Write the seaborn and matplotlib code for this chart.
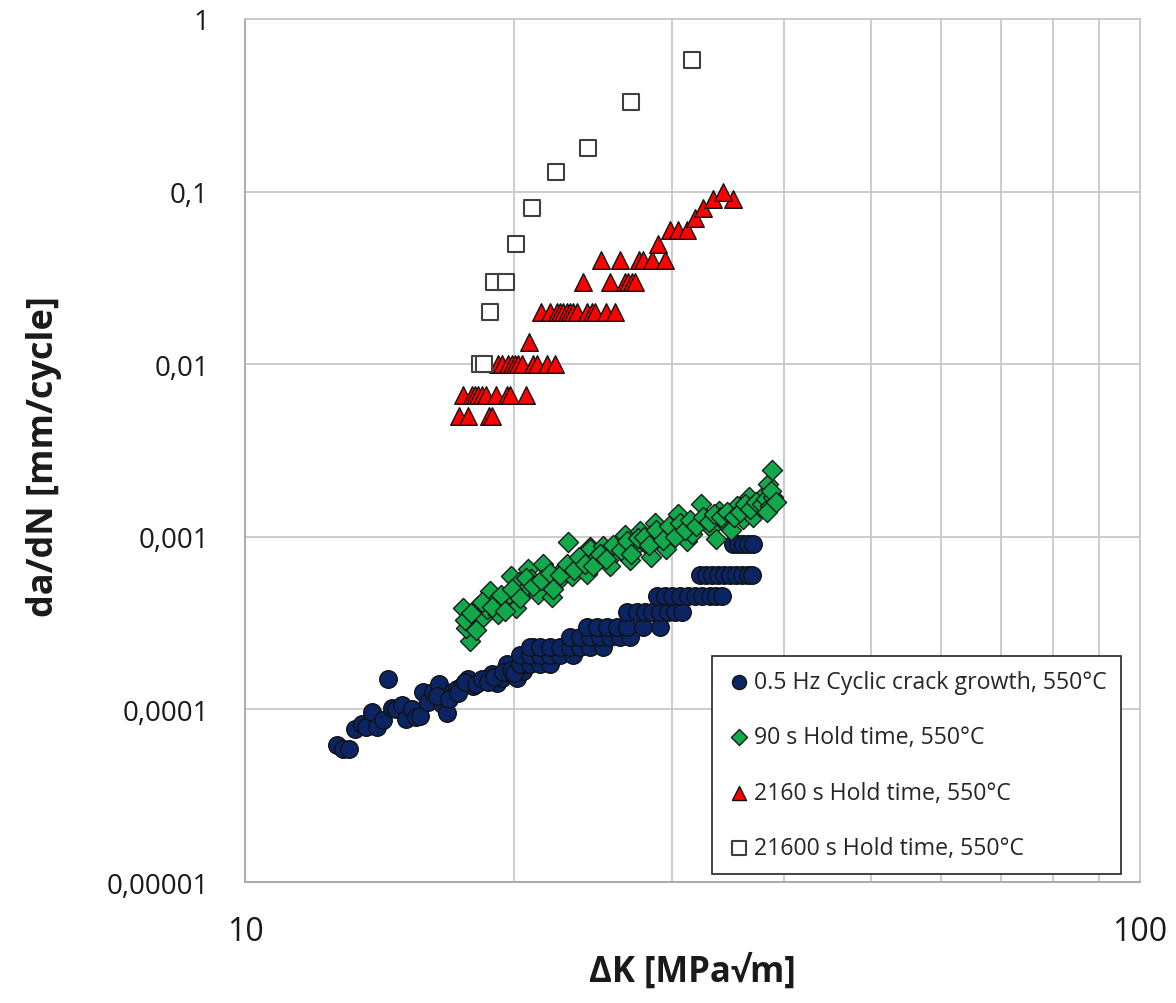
import matplotlib
matplotlib.use("Agg")
import matplotlib.pyplot as plt
import seaborn as sns
import pandas as pd
from matplotlib.ticker import FixedLocator, FixedFormatter, NullFormatter, NullLocator

# ---------------- data ----------------
cyc_dk = [12.66, 12.88, 13.08, 13.27, 13.5, 13.65, 13.85, 14.03, 14.25, 14.44, 14.59, 14.75,
          14.96, 15.13, 15.36, 15.53, 15.69, 15.8, 16.03, 16.24, 16.49, 16.59, 16.81, 17.02,
          17.24, 17.46, 17.77, 18.0, 18.27, 18.54, 18.87, 19.11, 19.36, 19.6, 19.86, 20.12,
          20.46, 20.82, 21.0,
          16.4, 16.9, 17.3, 17.6, 18.1, 18.4, 18.7, 19.0, 19.4, 19.8, 20.0, 20.6,
          20.29, 20.82, 21.36, 21.92,
          20.29, 20.82, 21.36, 21.92, 22.49, 23.27,
          20.82, 21.36, 21.92, 22.49, 23.07, 23.67, 24.29, 25.1,
          23.07, 23.67, 24.29, 24.92, 25.57, 26.24, 26.92,
          24.11, 24.74, 25.38, 26.04, 26.72, 27.84, 29.08,
          26.72, 27.42, 27.99, 28.5, 29.08, 29.69, 30.22, 30.77,
          28.86, 29.46, 29.99, 30.62, 31.26, 31.83, 32.41, 33.08, 33.6, 34.12,
          32.24, 32.74, 33.25, 33.77, 34.29, 34.83, 35.37, 35.92, 36.48, 36.86,
          35.1, 35.55, 36.01, 36.48, 36.95]
cyc_dadn = [6.2e-5, 5.9e-5, 5.9e-5, 7.7e-5, 8.2e-5, 7.9e-5, 9.7e-5, 7.9e-5, 8.7e-5, 1.51e-4, 1.02e-4, 1.0e-4,
            1.06e-4, 8.8e-5, 1.0e-4, 9.0e-5, 9.2e-5, 1.26e-4, 1.1e-4, 1.26e-4, 1.4e-4, 1.07e-4, 9.5e-5, 1.26e-4,
            1.32e-4, 1.37e-4, 1.51e-4, 1.37e-4, 1.45e-4, 1.51e-4, 1.6e-4, 1.43e-4, 1.53e-4, 1.83e-4, 1.6e-4, 1.53e-4,
            1.68e-4, 1.96e-4, 2.29e-4,
            1.2e-4, 1.15e-4, 1.25e-4, 1.45e-4, 1.4e-4, 1.5e-4, 1.45e-4, 1.55e-4, 1.65e-4, 1.7e-4, 1.62e-4, 1.83e-4,
            1.83e-4, 1.83e-4, 1.83e-4, 1.83e-4,
            2.07e-4, 2.07e-4, 2.07e-4, 2.07e-4, 2.07e-4, 2.07e-4,
            2.29e-4, 2.29e-4, 2.29e-4, 2.29e-4, 2.29e-4, 2.29e-4, 2.29e-4, 2.29e-4,
            2.62e-4, 2.62e-4, 2.62e-4, 2.62e-4, 2.62e-4, 2.62e-4, 2.62e-4,
            3.0e-4, 3.0e-4, 3.0e-4, 3.0e-4, 3.0e-4, 3.0e-4, 3.0e-4,
            3.68e-4, 3.68e-4, 3.68e-4, 3.68e-4, 3.68e-4, 3.68e-4, 3.68e-4, 3.68e-4,
            4.52e-4, 4.52e-4, 4.52e-4, 4.52e-4, 4.52e-4, 4.52e-4, 4.52e-4, 4.52e-4, 4.52e-4, 4.52e-4,
            6.0e-4, 6.0e-4, 6.0e-4, 6.0e-4, 6.0e-4, 6.0e-4, 6.0e-4, 6.0e-4, 6.0e-4, 6.0e-4,
            9.08e-4, 9.08e-4, 9.08e-4, 9.08e-4, 9.08e-4]

h90_dk = [17.51, 17.84, 17.67, 18.07, 18.23, 18.46, 18.65, 18.78, 19.01, 19.17, 19.41, 19.7,
          19.82, 20.06, 20.23, 20.5, 20.7, 20.88, 21.26, 21.55, 21.74, 22.03, 22.3, 22.68,
          22.98, 23.17, 23.47, 23.77, 24.08, 24.29, 24.6,
          24.08, 24.29, 24.71, 25.14, 25.57, 26.0, 26.59, 26.92, 27.28, 27.63, 28.07, 28.45,
          28.68, 29.08, 29.54, 30.08, 30.48, 30.86, 31.15, 31.62, 32.06, 32.32, 32.74, 33.16,
          33.6, 33.86, 34.41, 34.92, 35.42, 35.98, 36.54, 36.95, 37.6, 38.1, 38.43, 38.8,
          17.6, 17.9, 18.1, 18.4, 18.9, 19.3, 19.5, 19.9, 20.3, 20.6, 21.0, 21.4, 21.9, 22.1,
          22.5, 22.9, 23.3, 23.6, 24.0, 24.5, 24.9, 25.3, 25.8, 26.3, 26.7, 27.0, 27.5, 27.9,
          28.3, 28.8, 29.3, 29.8, 30.2, 30.6, 31.0, 31.4, 31.9, 32.5, 33.0, 33.4, 34.0, 34.6,
          35.2, 35.7, 36.2, 36.7, 37.2, 37.8, 38.2, 38.6, 38.9, 38.7, 38.3, 39.2]
h90_dadn = [3.87e-4, 2.5e-4, 2.95e-4, 3.2e-4, 3.99e-4, 3.42e-4, 3.82e-4, 4.87e-4, 4.27e-4, 3.57e-4, 4.08e-4, 4.66e-4,
            5.95e-4, 3.89e-4, 5.45e-4, 4.87e-4, 6.5e-4, 5.7e-4, 4.66e-4, 6.95e-4, 5.7e-4, 4.46e-4, 5.45e-4, 6.5e-4,
            9.3e-4, 5.95e-4, 6.8e-4, 7.28e-4, 6.22e-4, 8.7e-4, 7.6e-4,
            6.08e-4, 8.5e-4, 7.6e-4, 8.9e-4, 6.8e-4, 8.13e-4, 1.02e-3, 7.3e-4, 8.7e-4, 1.08e-3, 9.1e-4, 7.6e-4,
            1.21e-3, 1.02e-3, 8.5e-4, 1.08e-3, 1.36e-3, 1.13e-3, 9.5e-4, 1.04e-3, 1.21e-3, 1.55e-3, 1.27e-3, 1.13e-3,
            9.7e-4, 1.42e-3, 1.21e-3, 1.1e-3, 1.5e-3, 1.27e-3, 1.69e-3, 1.3e-3, 1.48e-3, 1.77e-3, 2.02e-3, 2.45e-3,
            3.3e-4, 3.6e-4, 2.9e-4, 4.2e-4, 3.9e-4, 4.6e-4, 3.7e-4, 5.0e-4, 4.4e-4, 5.8e-4, 5.2e-4, 5.6e-4, 6.2e-4, 5.0e-4,
            6.0e-4, 7.0e-4, 6.4e-4, 7.6e-4, 7.0e-4, 6.8e-4, 8.0e-4, 7.4e-4, 9.0e-4, 8.4e-4, 9.4e-4, 8.0e-4, 9.8e-4, 1.0e-3,
            9.0e-4, 1.1e-3, 9.6e-4, 1.15e-3, 1.0e-3, 1.2e-3, 1.1e-3, 1.25e-3, 1.15e-3, 1.3e-3, 1.22e-3, 1.35e-3, 1.3e-3, 1.4e-3,
            1.3e-3, 1.4e-3, 1.55e-3, 1.45e-3, 1.6e-3, 1.55e-3, 1.65e-3, 1.5e-3, 1.7e-3, 1.85e-3, 1.4e-3, 1.6e-3]

h2160_dk = [17.34, 17.74, 18.74, 18.9,
            17.54, 17.92, 18.07, 18.23, 18.39, 18.58, 19.06, 19.6, 19.78, 20.59,
            19.19, 19.36, 19.69, 19.86, 20.03, 20.2, 20.38, 21.0, 21.18, 21.74, 22.2,
            20.78,
            21.42, 21.92, 22.3, 22.49, 22.68, 22.88, 23.07, 23.27, 23.47, 24.08, 24.4, 24.6, 25.29, 25.91,
            23.88, 25.57, 26.59, 26.81, 27.05, 27.28,
            25.0, 26.24, 27.56, 27.86, 28.52, 29.46,
            28.95,
            29.85, 30.48, 31.15,
            31.83, 32.5, 33.37, 35.1, 34.22]
h2160_dadn = [0.005, 0.005, 0.005, 0.005,
              0.0066, 0.0066, 0.0066, 0.0066, 0.0066, 0.0066, 0.0066, 0.0066, 0.0066, 0.0066,
              0.01, 0.01, 0.01, 0.01, 0.01, 0.01, 0.01, 0.01, 0.01, 0.01, 0.01,
              0.0134,
              0.02, 0.02, 0.02, 0.02, 0.02, 0.02, 0.02, 0.02, 0.02, 0.02, 0.02, 0.02, 0.02, 0.02,
              0.03, 0.03, 0.03, 0.03, 0.03, 0.03,
              0.04, 0.04, 0.04, 0.04, 0.04, 0.04,
              0.05,
              0.06, 0.06, 0.06,
              0.07, 0.08, 0.09, 0.09, 0.1]

h21600_dk = [18.3, 18.5, 18.8, 18.96, 19.56, 20.1, 20.94, 22.27, 24.15, 27.0, 31.6]
h21600_dadn = [0.01, 0.01, 0.02, 0.03, 0.03, 0.05, 0.08, 0.13, 0.18, 0.33, 0.58]

series_labels = ["0.5 Hz Cyclic crack growth, 550°C",
                 "90 s Hold time, 550°C",
                 "2160 s Hold time, 550°C",
                 "21600 s Hold time, 550°C"]
y_ticks = [1e-5, 1e-4, 1e-3, 1e-2, 1e-1, 1]
y_tick_labels = ["0,00001", "0,0001", "0,001", "0,01", "0,1", "1"]
x_ticks = [10, 100]
x_tick_labels = ["10", "100"]
x_label = "ΔK [MPa√m]"
y_label = "da/dN [mm/cycle]"

# ---------------- figure ----------------
sns.set_theme(style="white")
plt.rcParams["font.family"] = ["Open Sans", "DejaVu Sans"]

fig = plt.figure(figsize=(11.76, 10.04), dpi=100)
ax = fig.add_axes([245 / 1176, 1 - 883 / 1004, 895 / 1176, 863 / 1004])

ax.set_xscale("log")
ax.set_yscale("log")
ax.set_xlim(10, 100)
ax.set_ylim(1e-5, 1)

df_c = pd.DataFrame({"dk": cyc_dk, "dadn": cyc_dadn})
df_g = pd.DataFrame({"dk": h90_dk, "dadn": h90_dadn})
df_t = pd.DataFrame({"dk": h2160_dk, "dadn": h2160_dadn})
df_s = pd.DataFrame({"dk": h21600_dk, "dadn": h21600_dadn})

sns.scatterplot(data=df_c, x="dk", y="dadn", ax=ax, marker="o", s=160,
                color="#0B2464", edgecolor="#111111", linewidth=1.0,
                label=series_labels[0], zorder=3)
sns.scatterplot(data=df_g, x="dk", y="dadn", ax=ax, marker="D", s=105,
                color="#12A84C", edgecolor="#1A1A1A", linewidth=1.0,
                label=series_labels[1], zorder=3)
sns.scatterplot(data=df_t, x="dk", y="dadn", ax=ax, marker="^", s=160,
                color="#FF0000", edgecolor="#111111", linewidth=1.0,
                label=series_labels[2], zorder=3)
sns.scatterplot(data=df_s, x="dk", y="dadn", ax=ax, marker="s", s=140,
                color="white", edgecolor="#404040", linewidth=1.5,
                label=series_labels[3], zorder=3)

# ticks & grid
ax.xaxis.set_major_locator(FixedLocator(x_ticks))
ax.xaxis.set_major_formatter(FixedFormatter(x_tick_labels))
ax.xaxis.set_minor_locator(FixedLocator([20, 30, 40, 50, 60, 70, 80, 90]))
ax.xaxis.set_minor_formatter(NullFormatter())
ax.yaxis.set_major_locator(FixedLocator(y_ticks))
ax.yaxis.set_major_formatter(FixedFormatter(y_tick_labels))
ax.yaxis.set_minor_locator(NullLocator())

ax.grid(True, which="major", color="#C8C8C8", linewidth=1.3)
ax.grid(True, which="minor", axis="x", color="#C8C8C8", linewidth=1.3)
ax.set_axisbelow(True)

for sp in ax.spines.values():
    sp.set_color("#C8C8C8")
    sp.set_linewidth(1.3)
ax.spines["left"].set_color("#A6A6A6")
ax.spines["bottom"].set_color("#A6A6A6")

ax.tick_params(axis="both", which="both", length=0)
ax.tick_params(axis="y", labelsize=20, pad=26, labelcolor="#1A1A1A")
ax.tick_params(axis="x", labelsize=23, pad=24, labelcolor="#1A1A1A")

ax.set_xlabel(x_label, fontsize=25, fontweight="bold", color="#1A1A1A")
ax.set_ylabel(y_label, fontsize=26, fontweight="bold", color="#1A1A1A")
ax.xaxis.set_label_coords(0.5, -0.083)
ax.yaxis.set_label_coords(-0.205, 0.494)

leg = ax.legend(loc="upper left", bbox_to_anchor=(0.522, 0.262), borderaxespad=0,
                frameon=True, fancybox=False, shadow=False, fontsize=16.7,
                labelspacing=1.36, handletextpad=0.1, handlelength=1.1,
                borderpad=0.6, markerscale=0.8)
leg.get_frame().set_edgecolor("#222222")
leg.get_frame().set_linewidth(1.2)
leg.get_frame().set_facecolor("white")
leg.get_frame().set_alpha(1)

fig.savefig("out.png", dpi=100, facecolor="white")
